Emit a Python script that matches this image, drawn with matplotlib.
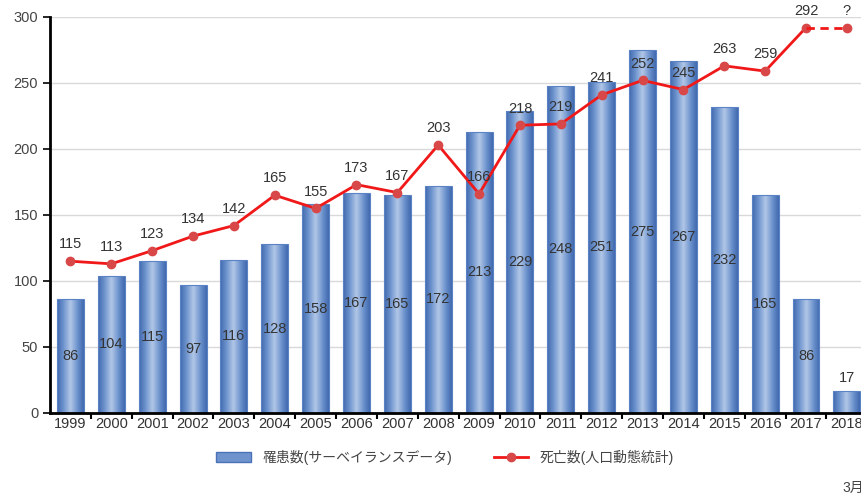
import matplotlib
matplotlib.use("Agg")
import matplotlib.pyplot as plt
import numpy as np
from matplotlib.patches import Patch
from matplotlib.lines import Line2D
from matplotlib.colors import LinearSegmentedColormap

# Latin digits in an Arial-like face, Japanese falls back to Noto CJK
plt.rcParams['font.family'] = ['Liberation Sans', 'Noto Sans CJK JP']

years = ['1999', '2000', '2001', '2002', '2003', '2004', '2005', '2006', '2007', '2008',
         '2009', '2010', '2011', '2012', '2013', '2014', '2015', '2016', '2017', '2018']
cases = [86, 104, 115, 97, 116, 128, 158, 167, 165, 172,
         213, 229, 248, 251, 275, 267, 232, 165, 86, 17]
deaths = [115, 113, 123, 134, 142, 165, 155, 173, 167, 203,
          166, 218, 219, 241, 252, 245, 263, 259, 292]
deaths_2018 = 292  # not known yet, drawn at the 2017 level with "?"

bar_label = '罹患数(サーベイランスデータ)'
line_label = '死亡数(人口動態統計)'

fig = plt.figure(figsize=(8.62, 4.95), dpi=100)
ax = fig.add_axes([50 / 862, 82 / 495, 812 / 862, 396 / 495])

x = np.arange(len(years))
bars = ax.bar(x, cases, width=0.66, color='none', edgecolor='#5b82c4', linewidth=0.8, zorder=2)

# cylinder-like shading on each bar
cmap = LinearSegmentedColormap.from_list('cyl', ['#4169ae', '#7096cf', '#b2c7e6', '#7096cf', '#4169ae'])
grad = np.linspace(0, 1, 64).reshape(1, -1)
for b in bars:
    im = ax.imshow(grad, cmap=cmap, aspect='auto', zorder=1.5,
                   extent=[b.get_x(), b.get_x() + b.get_width(), 0, b.get_height()])
    im.set_clip_path(b)

txt_col = '#333333'
for xi, v in zip(x, cases):
    if v > 30:
        ax.text(xi, v / 2, str(v), ha='center', va='center', fontsize=10.5, color=txt_col, zorder=5)
    else:
        ax.annotate(str(v), (xi, v), xytext=(0, 4), textcoords='offset points',
                    ha='center', va='bottom', fontsize=10.5, color=txt_col, zorder=5)

xd = x[:len(deaths)]
ax.plot(xd, deaths, color='#f01818', lw=2, marker='o', ms=6, mfc='#d84848', mec='#d84848', zorder=4)
ax.plot([xd[-1], x[-1]], [deaths[-1], deaths_2018], color='#f01818', lw=2, ls=(0, (3, 2)), zorder=4)
ax.plot([x[-1]], [deaths_2018], marker='o', ms=6, color='#d84848', zorder=4)

for xi, v in zip(xd, deaths):
    ax.annotate(str(v), (xi, v), xytext=(0, 7), textcoords='offset points',
                ha='center', va='bottom', fontsize=10.5, color=txt_col, zorder=5)
ax.annotate('?', (x[-1], deaths_2018), xytext=(0, 7), textcoords='offset points',
            ha='center', va='bottom', fontsize=10.5, color=txt_col, zorder=5)

ax.set_xlim(-0.5, 19.37)
ax.set_ylim(0, 300)
ax.set_yticks(range(0, 301, 50))
ax.set_xticks(x)
ax.set_xticklabels(years)
ax.set_xticks(x[:-1] + 0.5, minor=True)
ax.tick_params(axis='x', which='major', length=0, labelsize=10.5, pad=3, labelcolor=txt_col)
ax.tick_params(axis='x', which='minor', length=4, width=1.5, direction='out')
ax.tick_params(axis='y', length=5, width=1.2, labelsize=10.5, labelcolor='#444444')
ax.grid(axis='y', color='#d9d9d9', lw=1)
ax.set_axisbelow(True)
for s in ['top', 'right']:
    ax.spines[s].set_visible(False)
ax.spines['left'].set_linewidth(2)
ax.spines['bottom'].set_linewidth(2)

handles = [Patch(facecolor='#6f93cc', edgecolor='#4a72b8'),
           Line2D([], [], color='#f01818', lw=2, marker='o', ms=6, mfc='#d84848', mec='#d84848')]
fig.legend(handles, [bar_label, line_label], loc='center', bbox_to_anchor=(445 / 862, 1 - 457 / 495),
           ncol=2, frameon=False, fontsize=10, columnspacing=3, handlelength=2.5,
           labelcolor='#444444')

fig.text(842 / 862, 1 - 488 / 495, '3月', fontsize=10, color='#444444', va='center')

fig.savefig('out.png', dpi=100)
